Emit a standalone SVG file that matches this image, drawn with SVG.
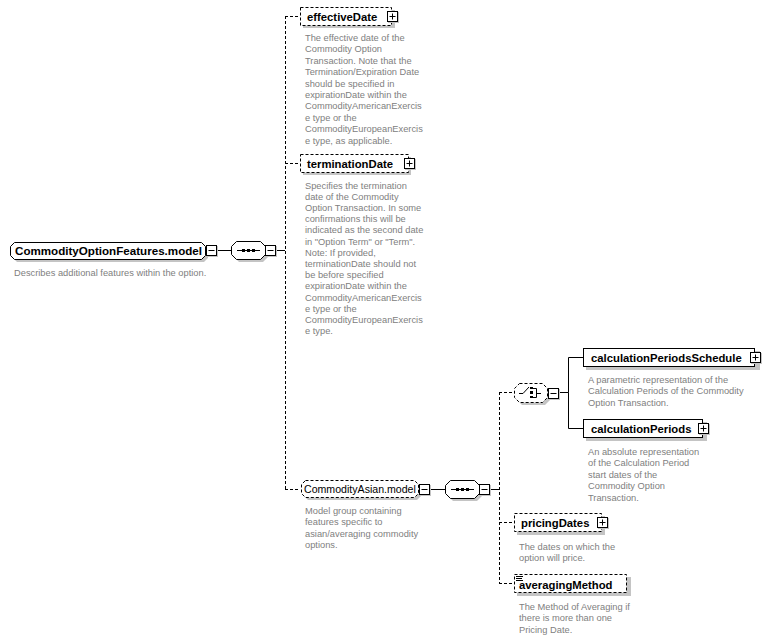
<svg xmlns="http://www.w3.org/2000/svg" width="770" height="639" viewBox="0 0 770 639">
<style>
.bg{fill:#fff}
.sh{fill:#c4c4c4;stroke:none}
.box{fill:#fff;stroke:#000;stroke-width:1}
.dbox{fill:#fff;stroke:#000;stroke-width:1;stroke-dasharray:3,2}
.ln{stroke:#000;stroke-width:1;fill:none}
.dln{stroke:#000;stroke-width:1;fill:none;stroke-dasharray:3,2}
.nm{font-family:"Liberation Sans",Arial,sans-serif;font-size:11.3px;font-weight:bold;fill:#000}
.nmn{font-family:"Liberation Sans",Arial,sans-serif;font-size:10.6px;fill:#000}
.ds{font-family:"Liberation Sans",Arial,sans-serif;font-size:9.3px;fill:#808080}
.pm{fill:#fff;stroke:#000;stroke-width:1}
.blk{fill:#000}
</style>
<rect class="bg" x="0" y="0" width="770" height="639"/>
<defs>
<g id="plus"><rect class="sh" x="1" y="1" width="11" height="11"/><rect class="pm" x="0.5" y="0.5" width="10" height="10"/><path class="ln" d="M2.5,5.5H8.5M5.5,2.5V8.5"/></g>
<g id="minus"><rect class="sh" x="1" y="1" width="11" height="11"/><rect class="pm" x="0.5" y="0.5" width="10" height="10"/><path class="ln" d="M2.5,5.5H8.5"/></g>
</defs>

<g id="connectors">
<path class="ln" d="M217,250.5H231"/>
<path class="ln" d="M276,250.5H285"/>
<path class="dln" d="M285.5,16V489"/>
<path class="dln" d="M285,16.5H300"/>
<path class="dln" d="M285,163.5H300"/>
<path class="dln" d="M285,489.5H300"/>
<path class="ln" d="M430,489.5H445"/>
<path class="ln" d="M489,489.5H499"/>
<path class="dln" d="M499.5,392V584"/>
<path class="dln" d="M499,392.5H514"/>
<path class="dln" d="M499,522.5H514"/>
<path class="dln" d="M499,583.5H514"/>
<path class="ln" d="M559,392.5H568.5V357.5H583M568.5,392.5V428.5H583"/>
</g>

<g id="root">
<path class="sh" d="M17,245H204L208,249V258L204,262H17L13,258V249Z"/>
<path class="box" d="M14.5,242.5H201.5L205.5,246.5V255.5L201.5,259.5H14.5L10.5,255.5V246.5Z"/>
<text class="nm" x="15" y="255" textLength="187" lengthAdjust="spacingAndGlyphs">CommodityOptionFeatures.model</text>
<use href="#minus" x="206" y="245"/>
<text class="ds" x="14" y="276">Describes additional features within the option.</text>
</g>

<g id="seq1">
<path class="sh" d="M239,244H263L268,249V257L263,262H239L234,257V249Z"/>
<path class="box" d="M236.5,241.5H260.5L265.5,246.5V254.5L260.5,259.5H236.5L231.5,254.5V246.5Z"/>
<path class="ln" d="M237,250.5H260"/>
<rect class="blk" x="242" y="249" width="3" height="3"/>
<rect class="blk" x="247" y="249" width="3" height="3"/>
<rect class="blk" x="252" y="249" width="3" height="3"/>
<use href="#minus" x="265" y="245"/>
</g>

<g id="effectiveDate">
<rect class="sh" x="303" y="10" width="92" height="18"/>
<rect class="dbox" x="300.5" y="7.5" width="91" height="18"/>
<text class="nm" x="307" y="20.5">effectiveDate</text>
<use href="#plus" x="387" y="11"/>
<text class="ds" x="305" y="41">
<tspan x="305" dy="0">The effective date of the</tspan>
<tspan x="305" dy="11.4">Commodity Option</tspan>
<tspan x="305" dy="11.4">Transaction. Note that the</tspan>
<tspan x="305" dy="11.4">Termination/Expiration Date</tspan>
<tspan x="305" dy="11.4">should be specified in</tspan>
<tspan x="305" dy="11.4">expirationDate within the</tspan>
<tspan x="305" dy="11.4">CommodityAmericanExercis</tspan>
<tspan x="305" dy="11.4">e type or the</tspan>
<tspan x="305" dy="11.4">CommodityEuropeanExercis</tspan>
<tspan x="305" dy="11.4">e type, as applicable.</tspan>
</text>
</g>

<g id="terminationDate">
<rect class="sh" x="303" y="157" width="108" height="18"/>
<rect class="dbox" x="300.5" y="154.5" width="108" height="18"/>
<text class="nm" x="307" y="167.5">terminationDate</text>
<use href="#plus" x="404" y="158"/>
<text class="ds" x="305" y="188.5">
<tspan x="305" dy="0">Specifies the termination</tspan>
<tspan x="305" dy="11.2">date of the Commodity</tspan>
<tspan x="305" dy="11.2">Option Transaction. In some</tspan>
<tspan x="305" dy="11.2">confirmations this will be</tspan>
<tspan x="305" dy="11.2">indicated as the second date</tspan>
<tspan x="305" dy="11.2">in "Option Term" or "Term".</tspan>
<tspan x="305" dy="11.2">Note: If provided,</tspan>
<tspan x="305" dy="11.2">terminationDate should not</tspan>
<tspan x="305" dy="11.2">be before specified</tspan>
<tspan x="305" dy="11.2">expirationDate within the</tspan>
<tspan x="305" dy="11.2">CommodityAmericanExercis</tspan>
<tspan x="305" dy="11.2">e type or the</tspan>
<tspan x="305" dy="11.2">CommodityEuropeanExercis</tspan>
<tspan x="305" dy="11.2">e type.</tspan>
</text>
</g>

<g id="CommodityAsian.model">
<path class="sh" d="M308,483H417L421,487V496L417,500H308L304,496V487Z"/>
<path class="dbox" d="M305.5,480.5H414.5L418.5,484.5V493.5L414.5,497.5H305.5L301.5,493.5V484.5Z"/>
<text class="nmn" x="304" y="493">CommodityAsian.model</text>
<use href="#minus" x="419" y="484"/>
<text class="ds" x="305" y="514">
<tspan x="305" dy="0">Model group containing</tspan>
<tspan x="305" dy="11.3">features specific to</tspan>
<tspan x="305" dy="11.3">asian/averaging commodity</tspan>
<tspan x="305" dy="11.3">options.</tspan>
</text>
</g>

<g id="seq2">
<path class="sh" d="M453,483H477L482,488V496L477,501H453L448,496V488Z"/>
<path class="box" d="M450.5,480.5H474.5L479.5,485.5V493.5L474.5,498.5H450.5L445.5,493.5V485.5Z"/>
<path class="ln" d="M451,489.5H474"/>
<rect class="blk" x="456" y="488" width="3" height="3"/>
<rect class="blk" x="461" y="488" width="3" height="3"/>
<rect class="blk" x="466" y="488" width="3" height="3"/>
<use href="#minus" x="479" y="484"/>
</g>

<g id="choice">
<path class="sh" d="M522,386H545L550,391V400L545,405H522L517,400V391Z"/>
<path class="dbox" d="M519.5,383.5H542.5L547.5,388.5V397.5L542.5,402.5H519.5L514.5,397.5V388.5Z"/>
<path class="ln" d="M519,393.5H523L529,387"/>
<rect class="blk" x="530" y="387" width="3" height="2"/>
<rect class="blk" x="530" y="391" width="3" height="3"/>
<rect class="blk" x="530" y="396" width="3" height="2"/>
<path class="ln" d="M533,388.5H536.5V397.5H533M536,393.5H541"/>
<use href="#minus" x="548" y="388"/>
</g>

<g id="calculationPeriodsSchedule">
<rect class="sh" x="586" y="351" width="174" height="19"/>
<rect class="box" x="583.5" y="348.5" width="171" height="18"/>
<text class="nm" x="591" y="361.5">calculationPeriodsSchedule</text>
<use href="#plus" x="750" y="352"/>
<text class="ds" x="588" y="382.5">
<tspan x="588" dy="0">A parametric representation of the</tspan>
<tspan x="588" dy="11.5">Calculation Periods of the Commodity</tspan>
<tspan x="588" dy="11.5">Option Transaction.</tspan>
</text>
</g>

<g id="calculationPeriods">
<rect class="sh" x="586" y="422" width="121" height="19"/>
<rect class="box" x="583.5" y="419.5" width="119" height="18"/>
<text class="nm" x="591" y="432.5">calculationPeriods</text>
<use href="#plus" x="698" y="423"/>
<text class="ds" x="588" y="454.5">
<tspan x="588" dy="0">An absolute representation</tspan>
<tspan x="588" dy="11.5">of the Calculation Period</tspan>
<tspan x="588" dy="11.5">start dates of the</tspan>
<tspan x="588" dy="11.5">Commodity Option</tspan>
<tspan x="588" dy="11.5">Transaction.</tspan>
</text>
</g>

<g id="pricingDates">
<rect class="sh" x="517" y="516" width="88" height="19"/>
<rect class="dbox" x="514.5" y="513.5" width="87" height="18"/>
<text class="nm" x="521" y="526.5">pricingDates</text>
<use href="#plus" x="597" y="517"/>
<text class="ds" x="519" y="549.5">
<tspan x="519" dy="0">The dates on which the</tspan>
<tspan x="519" dy="11.5">option will price.</tspan>
</text>
</g>

<g id="averagingMethod">
<rect class="sh" x="517" y="577" width="114" height="19"/>
<rect class="dbox" x="514.5" y="574.5" width="112" height="18"/>
<path class="ln" d="M516,576.5H523M516,578.5H522M516,580.5H523" stroke-width="0.8"/>
<text class="nm" x="519" y="588.5">averagingMethod</text>
<text class="ds" x="519" y="609.5">
<tspan x="519" dy="0">The Method of Averaging if</tspan>
<tspan x="519" dy="11.5">there is more than one</tspan>
<tspan x="519" dy="11.5">Pricing Date.</tspan>
</text>
</g>
</svg>
